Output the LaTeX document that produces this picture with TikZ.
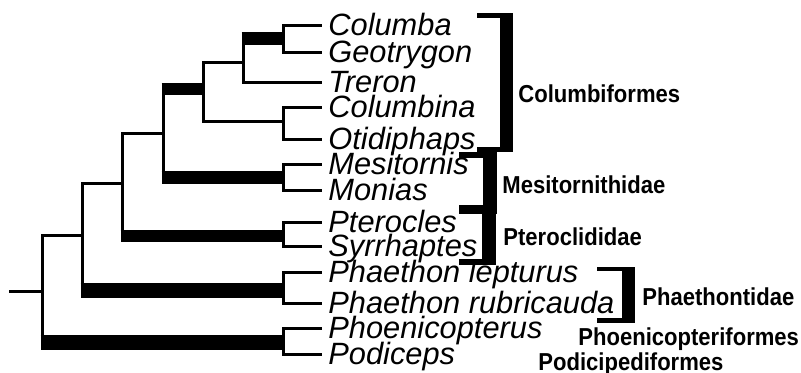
\documentclass[tikz,border=0pt]{standalone}
\usepackage{fontspec}
\setmainfont{Liberation Sans}
\newfontfamily\cladefont[FakeStretch=0.9]{Liberation Sans}

\begin{document}
\begin{tikzpicture}[x=.5pt,y=-.5pt,
  branch/.style={line width=1.5pt},
  stem/.style={line width=6.25pt},
  widestem/.style={line width=7.5pt},
  taxon/.style={font=\fontsize{15.4}{15.4}\selectfont\itshape,anchor=base west,inner sep=0pt,xshift=3pt,yshift=-5pt},
  clade/.style={font=\cladefont\bfseries\fontsize{12.25}{12.25}\selectfont,anchor=base west,inner sep=0pt}]
  \useasboundingbox (0,0) rectangle (801,372);
  \foreach \n/\y/\t in {col/25/Columba,geo/52/Geotrygon,tre/82/Treron,clb/107/Columbina,
      oti/139/Otidiphaps,mes/164/Mesitornis,mon/190/Monias,pte/222/Pterocles,syr/246/Syrrhaptes,
      phl/272/Phaethon lepturus,phr/303/Phaethon rubricauda,pho/328/Phoenicopterus,pod/354/Podiceps}{
    \coordinate (l\n) at (322,\y);
    \node[taxon] (t\n) at (l\n) {\t};
  }
  \coordinate (n1) at (283,38.5);
  \coordinate (n2) at (243,62);
  \coordinate (n3) at (283,121);
  \coordinate (n4) at (203,89);
  \coordinate (n5) at (283,177.5);
  \coordinate (n6) at (163,133);
  \coordinate (n7) at (283,236);
  \coordinate (n8) at (122,183);
  \coordinate (n9) at (283,290.5);
  \coordinate (n10) at (82,235);
  \coordinate (n11) at (283,342.5);
  \coordinate (root) at (42,291);
  \coordinate (base) at (9,291);
  \draw[branch] (n1) |- (lcol) (n1) |- (lgeo);
  \draw[branch] (n2) |- (n1) (n2) |- (ltre);
  \draw[branch] (n3) |- (lclb) (n3) |- (loti);
  \draw[branch] (n4) |- (n2) (n4) |- (n3);
  \draw[branch] (n5) |- (lmes) (n5) |- (lmon);
  \draw[branch] (n6) |- (n4) (n6) |- (n5);
  \draw[branch] (n7) |- (lpte) (n7) |- (lsyr);
  \draw[branch] (n8) |- (n6) (n8) |- (n7);
  \draw[branch] (n9) |- (lphl) (n9) |- (lphr);
  \draw[branch] (n10) |- (n8) (n10) |- (n9);
  \draw[branch] (n11) |- (lpho) (n11) |- (lpod);
  \draw[branch] (root) |- (n10) (root) |- (n11);
  \draw[branch] (base) -- (root);
  \draw[stem] ([xshift=-.75pt]n2 |- n1) -- (n1);
  \draw[stem] ([xshift=-.75pt]n6 |- n4) -- (n4);
  \draw[stem] ([xshift=-.75pt]n6 |- n5) -- (n5);
  \draw[stem] ([xshift=-.75pt]n8 |- n7) -- (n7);
  \draw[widestem] ([xshift=-.75pt]n10 |- n9) -- (n9);
  \draw[widestem] ([xshift=-.75pt]root |- n11) -- (n11);
  \fill (477,13) rectangle (513,18);
  \fill (500,13) rectangle (513,152);
  \fill (477,147) rectangle (513,152);
  \fill (459,152) rectangle (497,158);
  \fill (483,152) rectangle (497,212);
  \fill (459,205) rectangle (497,214);
  \fill (482,212) rectangle (496,265);
  \fill (459,259) rectangle (496,265);
  \fill (597,267) rectangle (635,271);
  \fill (622,267) rectangle (635,323);
  \fill (597,318) rectangle (635,323);
  \node[clade] (columbiformes) at (518,102) {Columbiformes};
  \node[clade] (mesitornithidae) at (502,193) {Mesitornithidae};
  \node[clade] (pteroclididae) at (503,245) {Pteroclididae};
  \node[clade] (phaethontidae) at (642,305) {Phaethontidae};
  \node[clade] (phoenicopteriformes) at (578,345) {Phoenicopteriformes};
  \node[clade] (podicipediformes) at (538,370) {Podicipediformes};
\end{tikzpicture}
\end{document}
